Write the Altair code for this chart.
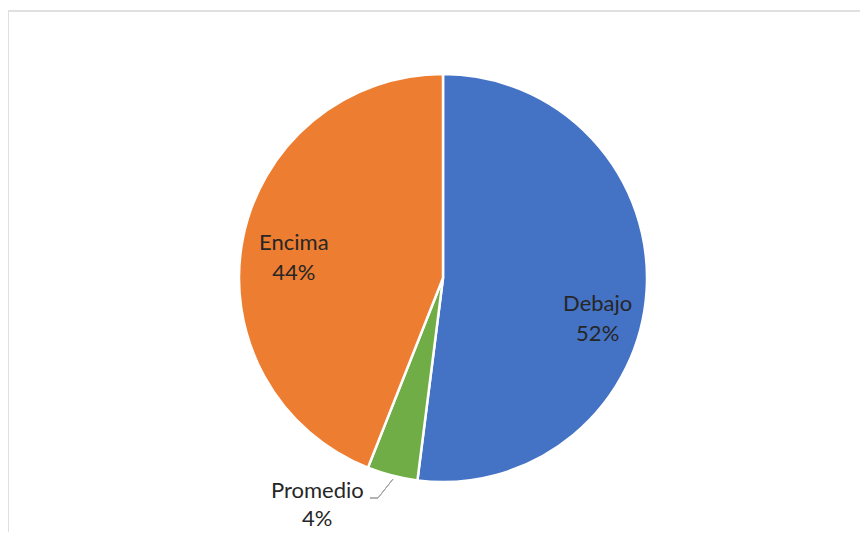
import altair as alt
import pandas as pd

categories = ["Debajo", "Promedio", "Encima"]
values = [52, 4, 44]
colors = ["#4472C4", "#70AD47", "#ED7D31"]

df = pd.DataFrame({"cat": categories, "value": values, "order": [0, 1, 2]})

CX, CY, R = 435, 270, 204
FONT = "Lato"

base = alt.Chart(df)

pie = base.mark_arc(outerRadius=R, stroke="white", strokeWidth=2.5).encode(
    theta=alt.Theta("value:Q", stack=True),
    color=alt.Color("cat:N", scale=alt.Scale(domain=categories, range=colors), legend=None),
    order=alt.Order("order:Q"),
    x=alt.value(CX),
    y=alt.value(CY),
)

pos = (
    base.transform_window(cum="sum(value)", sort=[alt.SortField("order")])
    .transform_joinaggregate(total="sum(value)")
    .transform_calculate(
        mid="2*PI*(datum.cum - datum.value/2)/datum.total",
        label="datum.cat + '\\n' + round(100*datum.value/datum.total) + '%'",
    )
)


def label_layer(cat, radius, dx, dy, line_height=30):
    return (
        pos.transform_filter(alt.datum.cat == cat)
        .transform_calculate(
            px=f"{CX} + {radius}*sin(datum.mid)",
            py=f"{CY} - {radius}*cos(datum.mid)",
        )
        .mark_text(
            font=FONT, fontSize=22, color="#262626", lineBreak="\n", lineHeight=line_height,
            align="center", baseline="middle", dx=dx, dy=dy,
        )
        .encode(
            x=alt.X("px:Q", scale=None, axis=None),
            y=alt.Y("py:Q", scale=None, axis=None),
            text="label:N",
        )
    )


lab_deb = label_layer("Debajo", 160, -5, 16)
lab_enc = label_layer("Encima", 160, 8, -5)
lab_pro = label_layer("Promedio", 240, -66, -19, 28)

lead1 = alt.Chart(df).mark_rule(color="#a6a6a6", strokeWidth=1).encode(
    x=alt.value(362), x2=alt.value(370), y=alt.value(490), y2=alt.value(490)
)
lead2 = alt.Chart(df).mark_rule(color="#a6a6a6", strokeWidth=1).encode(
    x=alt.value(370), x2=alt.value(385), y=alt.value(490), y2=alt.value(471)
)

border_top = alt.Chart(df).mark_rule(color="#e0e0e0", strokeWidth=2).encode(
    x=alt.value(0), x2=alt.value(852), y=alt.value(3), y2=alt.value(3)
)
border_left = alt.Chart(df).mark_rule(color="#e0e0e0", strokeWidth=2).encode(
    x=alt.value(0), x2=alt.value(0), y=alt.value(3), y2=alt.value(524)
)

chart = (
    alt.layer(border_top, border_left, pie, lead1, lead2, lab_deb, lab_enc, lab_pro)
    .properties(width=852, height=524, padding=0, autosize=alt.AutoSizeParams(type="none"))
    .configure_view(strokeWidth=0)
)

chart.save("out.html", embed_options={"renderer": "svg", "actions": False})
